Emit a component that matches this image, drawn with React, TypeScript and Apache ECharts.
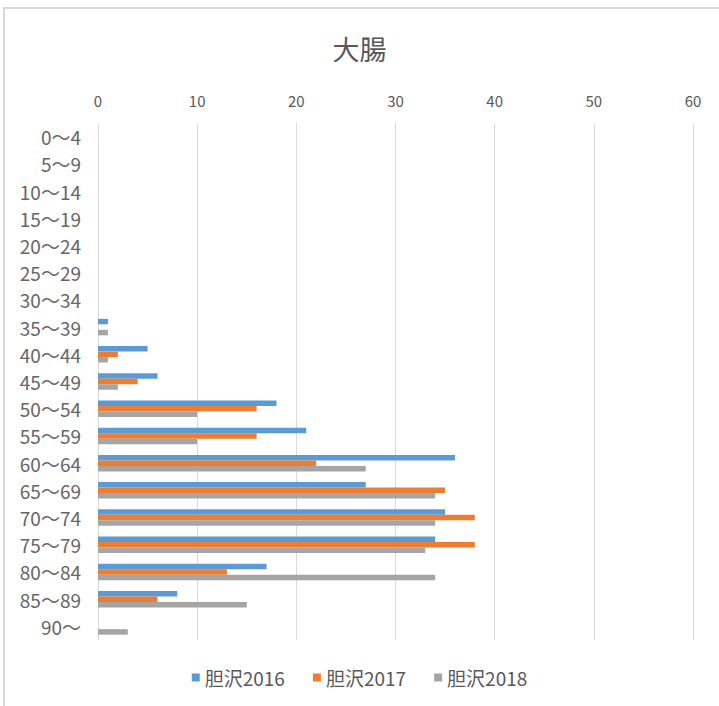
import React, { useEffect, useRef } from "react";
import * as echarts from "echarts";

const categories = ["0～4","5～9","10～14","15～19","20～24","25～29","30～34","35～39","40～44","45～49","50～54","55～59","60～64","65～69","70～74","75～79","80～84","85～89","90～"];
const s2016 = [0,0,0,0,0,0,0,1,5,6,18,21,36,27,35,34,17,8,0];
const s2017 = [0,0,0,0,0,0,0,0,2,4,16,16,22,35,38,38,13,6,0];
const s2018 = [0,0,0,0,0,0,0,1,1,2,10,10,27,34,34,33,34,15,3];
const seriesNames = ["胆沢2016","胆沢2017","胆沢2018"];
const colors = ["#5b9bd5","#ed7d31","#a5a5a5"];

export default function App() {
  const ref = useRef<HTMLDivElement>(null);
  useEffect(() => {
    const chart = echarts.init(ref.current!, null, { renderer: "svg" });
    const font = "'Noto Sans CJK JP', 'Noto Sans', sans-serif";
    const data = [s2016, s2017, s2018];
    chart.setOption({
      animation: false,
      textStyle: { fontFamily: font },
      title: {
        text: "大腸",
        left: "center",
        top: 30,
        textStyle: { fontSize: 27, fontWeight: "normal", color: "#595959", fontFamily: font },
      },
      graphic: [
        { type: "rect", shape: { x: 4, y: 8, width: 800, height: 800 }, style: { fill: "none", stroke: "#d9d9d9", lineWidth: 2 }, silent: true },
      ],
      legend: {
        bottom: 14,
        left: "center",
        itemWidth: 8,
        itemHeight: 8,
        itemGap: 28,
        icon: "rect",
        textStyle: { fontSize: 19, color: "#595959", fontFamily: font },
        data: seriesNames,
      },
      grid: { left: 98, right: 26, top: 123, bottom: 66, containLabel: false },
      xAxis: {
        type: "value",
        position: "top",
        min: 0,
        max: 60,
        interval: 10,
        axisLine: { show: false },
        axisTick: { show: false },
        axisLabel: { fontSize: 15, color: "#595959", margin: 15, fontFamily: font },
        splitLine: { lineStyle: { color: "#d9d9d9", width: 1 } },
      },
      yAxis: {
        type: "category",
        data: categories,
        inverse: true,
        axisLine: { show: false },
        axisTick: { show: false },
        axisLabel: { fontSize: 19, color: "#666666", margin: 17, fontFamily: font },
      },
      series: data.map((d, i) => ({
        name: seriesNames[i],
        type: "bar",
        data: d,
        barWidth: 5.5,
        barGap: "0%",
        itemStyle: { color: colors[i] },
      })),
    });
    return () => chart.dispose();
  }, []);
  return (
    <div
      ref={ref}
      style={{ position: "fixed", left: 0, top: 0, width: 719, height: 706, background: "#fff" }}
    />
  );
}
